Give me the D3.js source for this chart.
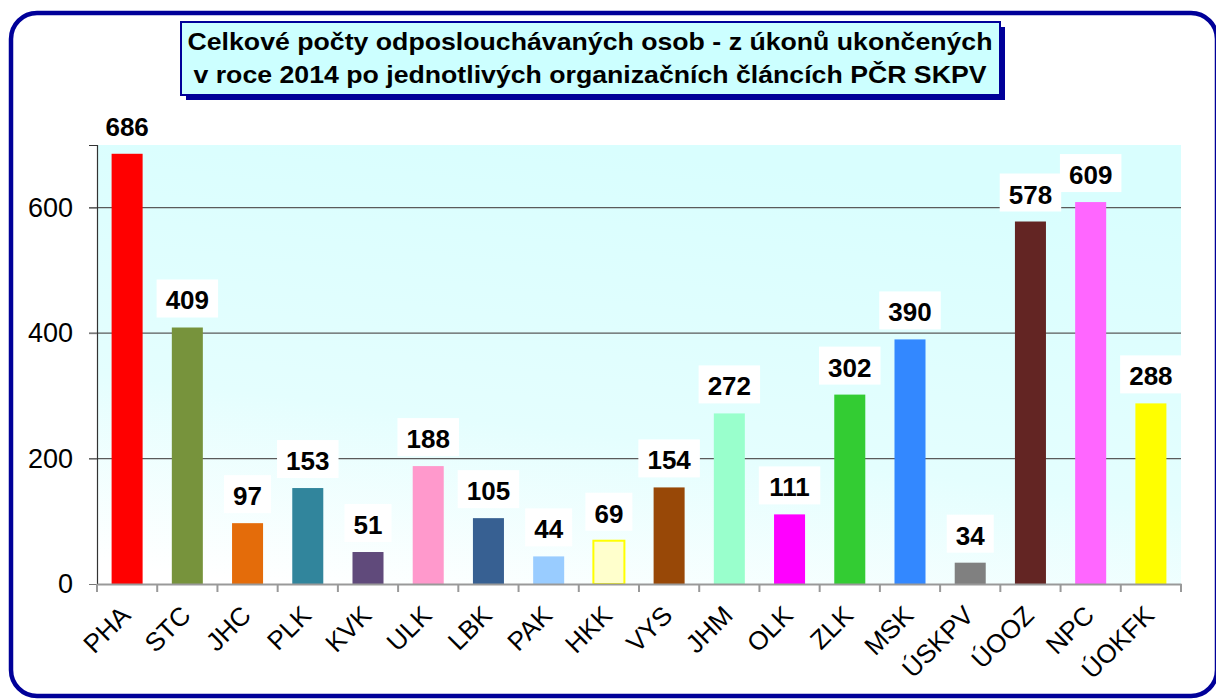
<!DOCTYPE html>
<html><head><meta charset="utf-8">
<script src="https://cdn.jsdelivr.net/npm/d3@7"></script>
<style>body{margin:0;background:#fff}svg{display:block}</style>
</head><body>
<script>
const categories = ["PHA","STC","JHC","PLK","KVK","ULK","LBK","PAK","HKK","VYS","JHM","OLK","ZLK","MSK","ÚSKPV","ÚOOZ","NPC","ÚOKFK"];
const values = [686,409,97,153,51,188,105,44,69,154,272,111,302,390,34,578,609,288];
const colors = ["#ff0000","#77933c","#e46c0a","#31859c","#604a7b","#ff99cc","#376092","#99ccff","#ffffcc","#984807","#99ffcc","#ff00ff","#33cc33","#3388ff","#808080","#632523","#ff66ff","#ffff00"];
const yTicks = [0,200,400,600];
const titleLines = ["Celkové počty odposlouchávaných osob - z úkonů ukončených","v roce 2014 po jednotlivých organizačních článcích PČR SKPV"];

const FONT="Liberation Sans, Arial, sans-serif";
const W=1216,H=699;
const svg=d3.select("body").append("svg").attr("width",W).attr("height",H);
const defs=svg.append("defs");
const g1=defs.append("linearGradient").attr("id","bg").attr("x1","0.45").attr("y1","0").attr("x2","0.15").attr("y2","1");
g1.append("stop").attr("offset","0").attr("stop-color","#d9fefe");
g1.append("stop").attr("offset","0.6").attr("stop-color","#e4fefe");
g1.append("stop").attr("offset","1").attr("stop-color","#ffffff");

// outer border
svg.append("rect").attr("x",11).attr("y",13).attr("width",1206).attr("height",683).attr("rx",26)
  .attr("fill","#fff").attr("stroke","#000099").attr("stroke-width",4.5);

const m={l:97,r:1181,t:145,b:584};
const x=d3.scaleBand().domain(categories).range([m.l,m.r]).paddingInner(0.485).paddingOuter(0.2425);
const y=d3.scaleLinear().domain([0,700]).range([m.b,m.t]);

svg.append("rect").attr("x",m.l).attr("y",m.t).attr("width",m.r-m.l).attr("height",m.b-m.t).attr("fill","url(#bg)");

// gridlines
svg.append("g").selectAll("line").data(yTicks.filter(d=>d>0)).join("line")
  .attr("x1",m.l-8).attr("x2",m.r).attr("y1",d=>y(d)).attr("y2",d=>y(d))
  .attr("stroke","#5a5a5a").attr("stroke-width",1.2);

// y axis
const ya=svg.append("g").attr("transform",`translate(${m.l},0)`).call(d3.axisLeft(y).tickValues(yTicks).tickSize(8).tickPadding(16));
ya.select(".domain").attr("stroke","#333").attr("stroke-width",1.2);
ya.selectAll(".tick line").attr("stroke","#777");
ya.selectAll("text").attr("font-family",FONT).attr("font-size",27).attr("fill","#000");

// bars
svg.append("g").selectAll("rect").data(values).join("rect")
  .attr("x",(d,i)=>x(categories[i])).attr("width",x.bandwidth())
  .attr("y",d=>y(d)).attr("height",d=>m.b-y(d))
  .attr("fill",(d,i)=>colors[i])
  .attr("stroke",(d,i)=>categories[i]==="HKK"?"#ffff00":"none").attr("stroke-width",2);

// x axis
const xa=svg.append("g").attr("transform",`translate(0,${m.b})`).call(d3.axisBottom(x).tickSize(0).tickFormat(""));
xa.select(".domain").attr("stroke","#999").attr("stroke-width",2);
const step=x.step();
svg.append("g").selectAll("line").data(d3.range(categories.length+1)).join("line")
  .attr("x1",i=>m.l+i*step).attr("x2",i=>m.l+i*step).attr("y1",m.b).attr("y2",m.b+8)
  .attr("stroke","#999").attr("stroke-width",2);
svg.append("g").selectAll("text").data(categories).join("text")
  .attr("transform",d=>`translate(${x(d)+x.bandwidth()/2+5},${m.b+33}) rotate(-45)`)
  .attr("text-anchor","end")
  .attr("font-family",FONT).attr("font-size",26).attr("fill","#000")
  .text(d=>d);

// labels
const bw=d=>String(d).length*14.5+18;
const lg=svg.append("g").selectAll("g").data(values).join("g")
  .attr("transform",(d,i)=>`translate(${x(categories[i])+x.bandwidth()/2},${y(d)-18})`);
lg.append("rect").attr("x",d=>-bw(d)/2).attr("y",-30)
  .attr("width",bw).attr("height",38).attr("fill","#fff");
lg.append("text").attr("text-anchor","middle").attr("font-family",FONT)
  .attr("font-weight","bold").attr("font-size",26).attr("fill","#000").text(d=>d);

// title box
svg.append("rect").attr("x",186).attr("y",27).attr("width",819).attr("height",73).attr("fill","#000099");
svg.append("rect").attr("x",181).attr("y",22).attr("width",819).attr("height",73).attr("fill","#ccffff").attr("stroke","#000099").attr("stroke-width",2);
const tl=[805,793];
svg.append("g").selectAll("text").data(titleLines).join("text")
  .attr("x",590).attr("y",(d,i)=>50+i*33).attr("text-anchor","middle")
  .attr("textLength",(d,i)=>tl[i]).attr("lengthAdjust","spacingAndGlyphs")
  .attr("font-family",FONT).attr("font-weight","bold").attr("font-size",24).attr("fill","#000")
  .text(d=>d);
</script>
</body></html>
